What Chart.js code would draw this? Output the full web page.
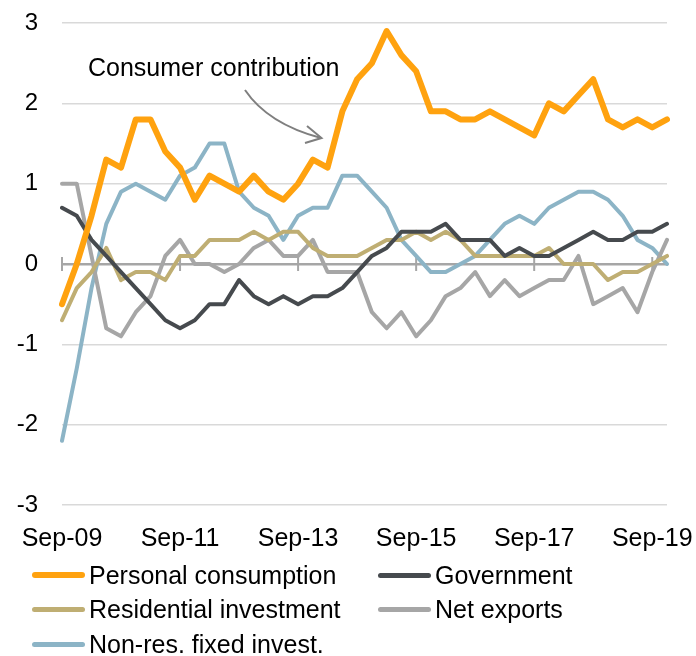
<!DOCTYPE html>
<html>
<head>
<meta charset="utf-8">
<script src="https://cdn.jsdelivr.net/npm/chart.js@4.4.1/dist/chart.umd.min.js"></script>
<style>
  body { margin: 0; background: #fff; font-family: "Liberation Sans", Arial, sans-serif; }
  #wrap { position: relative; width: 696px; height: 656px; }
  #legend { position: absolute; left: 32px; top: 558px; display: grid; grid-template-columns: 346px auto; font-size: 25px; color: #000; }
  .item { display: flex; align-items: center; height: 34.5px; white-space: nowrap; }
  .swatch { width: 53px; margin-right: 4px; border-radius: 3px; }
</style>
</head>
<body>
<div id="wrap">
  <canvas id="chart" width="696" height="560"></canvas>
  <div id="legend"></div>
</div>
<script>
// Kvartal, Sep-09 till Dec-19
const quarters = [
  "Sep-09", "Dec-09", "Mar-10", "Jun-10", "Sep-10", "Dec-10", "Mar-11", "Jun-11",
  "Sep-11", "Dec-11", "Mar-12", "Jun-12", "Sep-12", "Dec-12", "Mar-13", "Jun-13",
  "Sep-13", "Dec-13", "Mar-14", "Jun-14", "Sep-14", "Dec-14", "Mar-15", "Jun-15",
  "Sep-15", "Dec-15", "Mar-16", "Jun-16", "Sep-16", "Dec-16", "Mar-17", "Jun-17",
  "Sep-17", "Dec-17", "Mar-18", "Jun-18", "Sep-18", "Dec-18", "Mar-19", "Jun-19",
  "Sep-19", "Dec-19"
];
const tickLabels = ["Sep-09", "Sep-11", "Sep-13", "Sep-15", "Sep-17", "Sep-19"];

const personal = [-0.5, 0.0, 0.6, 1.3, 1.2, 1.8, 1.8, 1.4, 1.2, 0.8,
  1.1, 1.0, 0.9, 1.1, 0.9, 0.8, 1.0, 1.3, 1.2, 1.9,
  2.3, 2.5, 2.9, 2.6, 2.4, 1.9, 1.9, 1.8, 1.8, 1.9,
  1.8, 1.7, 1.6, 2.0, 1.9, 2.1, 2.3, 1.8, 1.7, 1.8,
  1.7, 1.8];
const government = [0.7, 0.6, 0.3, 0.1, -0.1, -0.3, -0.5, -0.7, -0.8, -0.7,
  -0.5, -0.5, -0.2, -0.4, -0.5, -0.4, -0.5, -0.4, -0.4, -0.3,
  -0.1, 0.1, 0.2, 0.4, 0.4, 0.4, 0.5, 0.3, 0.3, 0.3,
  0.1, 0.2, 0.1, 0.1, 0.2, 0.3, 0.4, 0.3, 0.3, 0.4,
  0.4, 0.5];
const residential = [-0.7, -0.3, -0.1, 0.2, -0.2, -0.1, -0.1, -0.2, 0.1, 0.1,
  0.3, 0.3, 0.3, 0.4, 0.3, 0.4, 0.4, 0.2, 0.1, 0.1,
  0.1, 0.2, 0.3, 0.3, 0.4, 0.3, 0.4, 0.3, 0.1, 0.1,
  0.1, 0.1, 0.1, 0.2, 0.0, 0.0, 0.0, -0.2, -0.1, -0.1,
  0.0, 0.1];
const netExports = [1.0, 1.0, 0.1, -0.8, -0.9, -0.6, -0.4, 0.1, 0.3, 0.0,
  0.0, -0.1, 0.0, 0.2, 0.3, 0.1, 0.1, 0.3, -0.1, -0.1,
  -0.1, -0.6, -0.8, -0.6, -0.9, -0.7, -0.4, -0.3, -0.1, -0.4,
  -0.2, -0.4, -0.3, -0.2, -0.2, 0.1, -0.5, -0.4, -0.3, -0.6,
  -0.1, 0.3];
const nonRes = [-2.2, -1.3, -0.3, 0.5, 0.9, 1.0, 0.9, 0.8, 1.1, 1.2,
  1.5, 1.5, 0.9, 0.7, 0.6, 0.3, 0.6, 0.7, 0.7, 1.1,
  1.1, 0.9, 0.7, 0.3, 0.1, -0.1, -0.1, 0.0, 0.1, 0.3,
  0.5, 0.6, 0.5, 0.7, 0.8, 0.9, 0.9, 0.8, 0.6, 0.3,
  0.2, 0.0];

const series = [
  { label: "Personal consumption", data: personal, color: "#ffa20f", width: 6, swatch: 6 },
  { label: "Government", data: government, color: "#464a4e", width: 4, swatch: 5 },
  { label: "Residential investment", data: residential, color: "#bfae73", width: 4, swatch: 5 },
  { label: "Net exports", data: netExports, color: "#a6a6a6", width: 4, swatch: 5 },
  { label: "Non-res. fixed invest.", data: nonRes, color: "#8cb4c6", width: 4, swatch: 5 }
];

// Nollinjens tickmarkeringar + pilen med texten
const extras = {
  id: "extras",
  beforeDatasetsDraw(chart) {
    const { ctx, scales: { x, y } } = chart;
    const y0 = y.getPixelForValue(0);
    ctx.save();
    ctx.strokeStyle = "#a6a6a6";
    ctx.lineWidth = 2;
    tickLabels.forEach((lbl) => {
      const px = x.getPixelForValue(quarters.indexOf(lbl));
      ctx.beginPath();
      ctx.moveTo(px, y0 - 7);
      ctx.lineTo(px, y0 + 7);
      ctx.stroke();
    });
    ctx.restore();
  },
  afterDraw(chart) {
    const ctx = chart.ctx;
    ctx.save();
    ctx.fillStyle = "#000";
    ctx.font = '25px "Liberation Sans", Arial, sans-serif';
    ctx.textBaseline = "alphabetic";
    ctx.fillText("Consumer contribution", 88, 76);
    ctx.strokeStyle = "#7f7f7f";
    ctx.lineWidth = 2;
    ctx.beginPath();
    ctx.moveTo(245, 90);
    ctx.quadraticCurveTo(268, 124, 321, 138);
    ctx.stroke();
    ctx.beginPath();
    ctx.moveTo(307, 126);
    ctx.lineTo(321.5, 138);
    ctx.lineTo(305, 143);
    ctx.stroke();
    ctx.restore();
  }
};

const ctx = document.getElementById("chart").getContext("2d");

new Chart(ctx, {
  type: "line",
  data: {
    labels: quarters,
    datasets: series.map((s) => ({
      label: s.label,
      data: s.data,
      borderColor: s.color,
      backgroundColor: s.color,
      borderWidth: s.width,
      pointRadius: 0,
      tension: 0,
      borderJoinStyle: "round",
      borderCapStyle: "round"
    }))
  },
  options: {
    responsive: false,
    animation: false,
    layout: { padding: { top: 23, right: 29, bottom: 0, left: 0 } },
    plugins: { legend: { display: false }, tooltip: { enabled: false } },
    scales: {
      x: {
        grid: { display: false },
        border: { display: false },
        afterFit: (scale) => { scale.height = 55; },
        ticks: {
          autoSkip: false,
          maxRotation: 0,
          padding: 11,
          color: "#000",
          font: { family: '"Liberation Sans", Arial, sans-serif', size: 25 },
          callback: function (val) {
            const lbl = this.getLabelForValue(val);
            return tickLabels.includes(lbl) ? lbl : "";
          }
        }
      },
      y: {
        min: -3,
        max: 3,
        afterFit: (scale) => {
          scale.width = 62;
          scale.paddingTop = 0;
          scale.paddingBottom = 0;
        },
        border: { display: false },
        grid: {
          drawTicks: false,
          color: (c) => (c.tick.value === 0 ? "#a6a6a6" : "#d9d9d9"),
          lineWidth: (c) => (c.tick.value === 0 ? 2.5 : 1.5)
        },
        ticks: {
          stepSize: 1,
          padding: 24,
          color: "#000",
          font: { family: '"Liberation Sans", Arial, sans-serif', size: 24 }
        }
      }
    }
  },
  plugins: [extras]
});

// Legenden i två kolumner
const legend = document.getElementById("legend");
series.forEach((s) => {
  const item = document.createElement("div");
  item.className = "item";
  item.innerHTML = `<span class="swatch" style="height:${s.swatch}px;background:${s.color}"></span>${s.label}`;
  legend.appendChild(item);
});
</script>
</body>
</html>
